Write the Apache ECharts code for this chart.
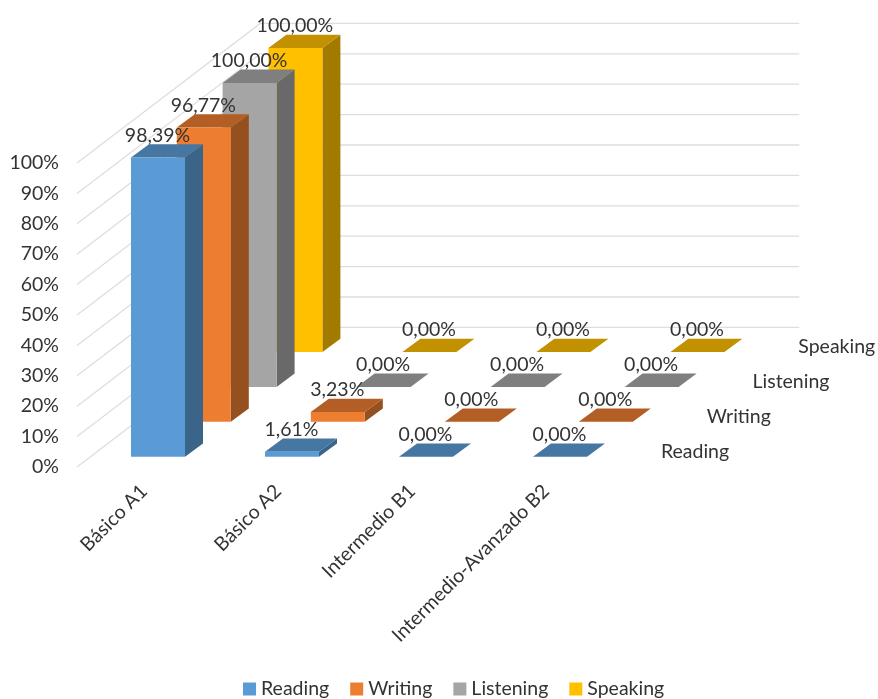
<!DOCTYPE html>
<html>
<head>
<meta charset="utf-8">
<style>html,body{margin:0;padding:0;background:#fff}#c{width:878px;height:699px}</style>
<script src="https://cdn.jsdelivr.net/npm/echarts@6/dist/echarts.min.js"></script>
</head>
<body>
<div id="c"></div>
<script>
var categories = ['Básico A1', 'Básico A2', 'Intermedio B1', 'Intermedio-Avanzado B2'];
var seriesNames = ['Reading', 'Writing', 'Listening', 'Speaking'];
var reading = [98.39, 1.61, 0, 0];
var writing = [96.77, 3.23, 0, 0];
var listening = [100, 0, 0, 0];
var speaking = [100, 0, 0, 0];
var yTicks = [0, 10, 20, 30, 40, 50, 60, 70, 80, 90, 100];

var seriesValues = [reading, writing, listening, speaking];
var frontColors = ['#5B9BD5', '#ED7D31', '#A5A5A5', '#FFC000'];
var topColors = ['#4676A2', '#B35E25', '#7F7F7F', '#C19100'];
var sideColors = ['#3A6488', '#955020', '#696969', '#A37A00'];

// oblique projection of the depth axis
var ROW_DX = 45.8, ROW_DY = 34.9;   // one series row of depth
var BAR_DX = 18, BAR_DY = 13.3;     // depth of one bar
var START_DX = 14, START_DY = 10.3; // gap in front of a bar inside its row
var BAR_FRACTION = 0.403;
var FONT_SIZE = 19.5;
var FONT = FONT_SIZE + 'px Lato, sans-serif';
var TEXT = '#333333';

function fmt(v) { return v.toFixed(2).replace('.', ',') + '%'; }

function wallItem(params, api) {
  var v = api.value(0);
  var half = api.size([1, 0])[0] / 2;
  var p = api.coord([0, v]);
  var x0 = p[0] - half, y0 = p[1];
  var n = seriesNames.length;
  var xb = x0 + ROW_DX * n, yb = y0 - ROW_DY * n;
  var xe = xb + half * 2 * categories.length + 3;
  return {
    type: 'polyline',
    shape: { points: [[x0, y0], [xb, yb], [xe, yb]] },
    style: { stroke: '#DEDEDE', lineWidth: 1.3, fill: null }
  };
}

function barItem(row) {
  return function (params, api) {
    var c = api.value(0), v = api.value(1);
    var w = api.size([1, 0])[0] * BAR_FRACTION;
    var dx = START_DX + ROW_DX * row, dy = START_DY + ROW_DY * row;
    var base = api.coord([c, 0]), top = api.coord([c, v]);
    var l = base[0] + dx - w / 2, r = l + w;
    var yb = base[1] - dy, yt = top[1] - dy;
    return {
      type: 'group',
      children: [
        { type: 'polygon', shape: { points: [[r, yb], [r + BAR_DX, yb - BAR_DY], [r + BAR_DX, yt - BAR_DY], [r, yt]] },
          style: { fill: sideColors[row] } },
        { type: 'polygon', shape: { points: [[l, yt], [r, yt], [r + BAR_DX, yt - BAR_DY], [l + BAR_DX, yt - BAR_DY]] },
          style: { fill: topColors[row] } },
        { type: 'rect', shape: { x: l, y: yt, width: w, height: yb - yt },
          style: { fill: frontColors[row] } }
      ]
    };
  };
}

function labelItem(row) {
  return function (params, api) {
    var c = api.value(0), v = api.value(1);
    var top = api.coord([c, v]);
    return {
      type: 'text',
      style: {
        x: top[0] + START_DX + ROW_DX * row - 0.5,
        y: top[1] - START_DY - ROW_DY * row - 22,
        text: fmt(v), font: FONT, fill: TEXT, align: 'center', verticalAlign: 'middle'
      }
    };
  };
}

function depthLabelItem(params, api) {
  var i = api.value(0);
  var half = api.size([1, 0])[0] / 2;
  var p = api.coord([categories.length - 1, 0]);
  return {
    type: 'text',
    style: {
      x: p[0] + half + ROW_DX * (i + 0.5) + 25,
      y: p[1] - ROW_DY * (i + 0.5) + 2,
      text: seriesNames[i], font: FONT, fill: TEXT, align: 'left', verticalAlign: 'middle'
    }
  };
}

var series = [
  { type: 'custom', name: 'walls', silent: true, z: 1, xAxisIndex: 0, yAxisIndex: 0,
    renderItem: wallItem, data: yTicks.map(function (t) { return [t]; }),
    encode: { y: 0 } },
  { type: 'custom', name: 'depth axis', silent: true, z: 1,
    renderItem: depthLabelItem, data: seriesNames.map(function (n, i) { return [i]; }) }
];
seriesNames.forEach(function (name, row) {
  series.push({
    type: 'custom', name: name, z: 10 - row,
    itemStyle: { color: frontColors[row] },
    renderItem: barItem(row),
    encode: { x: 0, y: 1 },
    data: seriesValues[row].map(function (v, c) { return [c, v]; })
  });
  series.push({
    type: 'custom', name: name + ' labels', z: 20, silent: true,
    renderItem: labelItem(row),
    encode: { x: 0, y: 1 },
    data: seriesValues[row].map(function (v, c) { return [c, v]; })
  });
});

var chart = echarts.init(document.getElementById('c'), null, { renderer: 'canvas' });
chart.setOption({
  animation: false,
  backgroundColor: '#fff',
  grid: { left: 77, width: 536, top: 163, height: 304, containLabel: false },
  xAxis: {
    type: 'category', data: categories,
    axisLine: { show: false }, axisTick: { show: false }, splitLine: { show: false },
    axisLabel: { rotate: 45, interval: 0, margin: 21, color: TEXT, fontSize: FONT_SIZE, fontFamily: 'Lato' }
  },
  yAxis: {
    type: 'value', min: 0, max: 100, interval: 10,
    axisLine: { show: false }, axisTick: { show: false }, splitLine: { show: false },
    axisLabel: { margin: 18, color: TEXT, fontSize: FONT_SIZE, fontFamily: 'Lato', formatter: '{value}%' }
  },
  legend: {
    data: seriesNames, left: 238, top: 674, icon: 'rect', itemWidth: 13, itemHeight: 13, itemGap: 21,
    textStyle: { color: TEXT, fontSize: FONT_SIZE, fontFamily: 'Lato' }
  },
  series: series
});
</script>
</body>
</html>
